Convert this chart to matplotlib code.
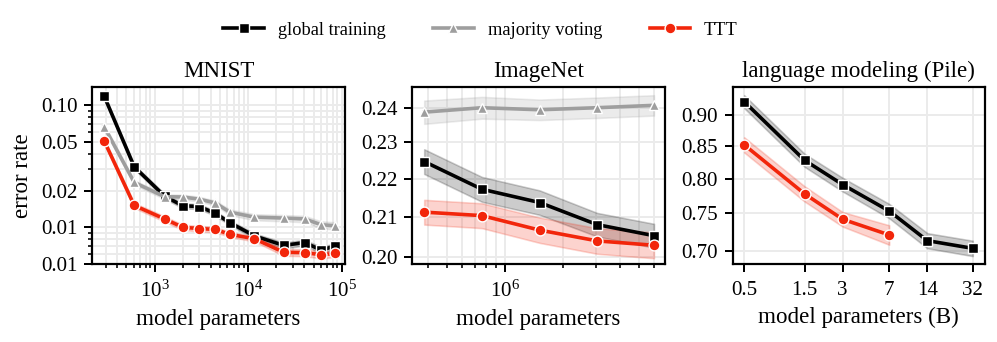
import matplotlib
matplotlib.use("Agg")
import matplotlib.pyplot as plt
import numpy as np
from matplotlib.ticker import FixedLocator, FixedFormatter, NullFormatter, NullLocator, LogLocator

# ---------------- data ----------------
series_names = ["global training", "majority voting", "TTT"]

mnist_params = [289, 606, 1280, 2000, 2990, 4470, 6370, 11700, 24000, 40300, 60300, 84100]
mnist_global = [0.119, 0.0313, 0.0180, 0.0150, 0.0148, 0.0130, 0.0109, 0.0085, 0.0071, 0.0075, 0.0065, 0.0070]
mnist_majority = [0.0668, 0.0233, 0.0178, 0.0177, 0.0170, 0.0158, 0.0133, 0.0121, 0.0119, 0.0117, 0.0105, 0.0103]
mnist_ttt = [0.0511, 0.0151, 0.0117, 0.0100, 0.00976, 0.0096, 0.00875, 0.00805, 0.00624, 0.0062, 0.00596, 0.0061]
mnist_global_err = [0.004, 0.0012, 0.0008, 0.0007, 0.0007, 0.0006, 0.0005, 0.0004, 0.0004, 0.0004, 0.0004, 0.0004]
mnist_majority_err = [0.003, 0.0010, 0.0008, 0.0008, 0.0008, 0.0007, 0.0007, 0.0007, 0.0007, 0.0007, 0.0007, 0.0007]
mnist_ttt_err = [0.002, 0.0007, 0.0006, 0.0005, 0.0005, 0.0005, 0.0004, 0.0004, 0.0004, 0.0004, 0.0004, 0.0004]
mnist_yticks = [0.1, 0.05, 0.02, 0.01, 0.005]
mnist_yticklabels = ["0.10", "0.05", "0.02", "0.01", "0.01"]

imagenet_params = [3.8e5, 7.6e5, 1.52e6, 3.03e6, 6.0e6]
imagenet_global = [0.2247, 0.2172, 0.2137, 0.2080, 0.2052]
imagenet_majority = [0.2387, 0.2400, 0.2394, 0.2400, 0.2407]
imagenet_ttt = [0.2112, 0.2103, 0.2066, 0.2039, 0.2028]
imagenet_global_err = [0.0034, 0.0033, 0.0032, 0.0030, 0.0030]
imagenet_majority_err = [0.0034, 0.0032, 0.0030, 0.0030, 0.0030]
imagenet_ttt_err = [0.0032, 0.0032, 0.0032, 0.0032, 0.0032]
imagenet_yticks = [0.20, 0.21, 0.22, 0.23, 0.24]
imagenet_yticklabels = ["0.20", "0.21", "0.22", "0.23", "0.24"]

lm_params = [0.5, 1.5, 3, 7, 14, 32]
lm_xticklabels = ["0.5", "1.5", "3", "7", "14", "32"]
lm_global = [0.9226, 0.8277, 0.7912, 0.7534, 0.7132, 0.7031]
lm_ttt_params = [0.5, 1.5, 3, 7]
lm_ttt = [0.8517, 0.7778, 0.7420, 0.7208]
lm_global_err = [0.011, 0.010, 0.010, 0.010, 0.010, 0.010]
lm_ttt_err = [0.012, 0.011, 0.010, 0.013]
lm_yticks = [0.70, 0.75, 0.80, 0.85, 0.90]
lm_yticklabels = ["0.70", "0.75", "0.80", "0.85", "0.90"]

# ---------------- style ----------------
plt.rcParams.update({
    "font.family": ["Liberation Serif", "DejaVu Serif"],
    "mathtext.fontset": "stix",
    "axes.formatter.use_mathtext": True,
    "font.size": 10,
    "xtick.labelsize": 10.5,
    "ytick.labelsize": 10.5,
    "axes.titlesize": 11.5,
    "axes.labelsize": 11.5,
    "legend.fontsize": 9.2,
    "axes.linewidth": 1.1,
    "xtick.major.size": 4,
    "ytick.major.size": 4,
    "xtick.minor.size": 2.2,
    "ytick.minor.size": 2.2,
    "xtick.major.width": 1.0,
    "ytick.major.width": 1.0,
    "xtick.minor.width": 0.8,
    "ytick.minor.width": 0.8,
    "xtick.major.pad": 4.5,
    "xtick.minor.pad": 4.5,
    "xtick.direction": "out",
    "ytick.direction": "out",
})

C_BLACK = "#000000"
C_GRAY = "#9e9e9e"
C_RED = "#f2260b"
GRID_C = "#ebebeb"

styles = {
    "global training": dict(color=C_BLACK, marker="s", ms=5.4),
    "majority voting": dict(color=C_GRAY, marker="^", ms=5.4),
    "TTT": dict(color=C_RED, marker="o", ms=5.4),
}

fig, axes = plt.subplots(1, 3, figsize=(997 / 144, 342 / 144), dpi=144)
fig.subplots_adjust(left=0.0926, right=0.988, top=0.745, bottom=0.228, wspace=0.268)


def draw(ax, x, y, err, name):
    st = styles[name]
    x = np.asarray(x, float)
    y = np.asarray(y, float)
    e = np.asarray(err, float)
    ax.fill_between(x, y - e, y + e, color=st["color"], alpha=0.2, lw=0.8, zorder=2)
    line, = ax.plot(x, y, color=st["color"], lw=1.8, marker=st["marker"], ms=st["ms"],
                    mfc=st["color"], mec="white", mew=0.7, zorder=3, label=name)
    return line


def style_axes(ax):
    ax.set_axisbelow(True)
    for s in ax.spines.values():
        s.set_color("black")
        s.set_linewidth(1.1)


# MNIST
ax = axes[0]
h1 = draw(ax, mnist_params, mnist_global, mnist_global_err, "global training")
h2 = draw(ax, mnist_params, mnist_majority, mnist_majority_err, "majority voting")
h3 = draw(ax, mnist_params, mnist_ttt, mnist_ttt_err, "TTT")
ax.set_xscale("log")
ax.set_yscale("log")
ax.set_xlim(216, 1.08e5)
ax.set_ylim(0.005, 0.1405)
ax.yaxis.set_major_locator(FixedLocator(mnist_yticks))
ax.yaxis.set_major_formatter(FixedFormatter(mnist_yticklabels))
ax.yaxis.set_minor_locator(LogLocator(base=10, subs=np.arange(2, 10)))
ax.yaxis.set_minor_formatter(NullFormatter())
ax.xaxis.set_minor_formatter(NullFormatter())
ax.grid(True, which="major", color=GRID_C, lw=1.0)
ax.grid(True, which="minor", color=GRID_C, lw=1.0)
ax.set_title("MNIST", pad=5)
ax.set_xlabel("model parameters", labelpad=3.5)
ax.set_ylabel("error rate")
style_axes(ax)

# ImageNet
ax = axes[1]
draw(ax, imagenet_params, imagenet_global, imagenet_global_err, "global training")
draw(ax, imagenet_params, imagenet_majority, imagenet_majority_err, "majority voting")
draw(ax, imagenet_params, imagenet_ttt, imagenet_ttt_err, "TTT")
ax.set_xscale("log")
ax.set_yscale("log")
ax.set_xlim(3.3e5, 6.84e6)
ax.set_ylim(0.1982, 0.2461)
ax.yaxis.set_major_locator(FixedLocator(imagenet_yticks))
ax.yaxis.set_major_formatter(FixedFormatter(imagenet_yticklabels))
ax.yaxis.set_minor_locator(NullLocator())
ax.xaxis.set_minor_formatter(NullFormatter())
ax.grid(True, which="major", color=GRID_C, lw=1.0)
ax.grid(True, which="minor", axis="x", color=GRID_C, lw=1.0)
ax.set_title("ImageNet", pad=5)
ax.set_xlabel("model parameters", labelpad=3.5)
style_axes(ax)

# Language modeling
ax = axes[2]
draw(ax, lm_params, lm_global, lm_global_err, "global training")
draw(ax, lm_ttt_params, lm_ttt, lm_ttt_err, "TTT")
ax.set_xscale("log")
ax.set_yscale("log")
ax.set_xlim(0.405, 40)
ax.set_ylim(0.683, 0.9475)
ax.xaxis.set_major_locator(FixedLocator(lm_params))
ax.xaxis.set_major_formatter(FixedFormatter(lm_xticklabels))
ax.xaxis.set_minor_locator(NullLocator())
ax.yaxis.set_major_locator(FixedLocator(lm_yticks))
ax.yaxis.set_major_formatter(FixedFormatter(lm_yticklabels))
ax.yaxis.set_minor_locator(NullLocator())
ax.grid(True, which="major", color=GRID_C, lw=1.0)
ax.set_title("language modeling (Pile)", pad=5)
ax.set_xlabel("model parameters (B)", labelpad=3.5)
style_axes(ax)

leg = fig.legend([h1, h2, h3], series_names, loc="center", bbox_to_anchor=(0.482, 0.912),
                 ncol=3, frameon=False, handlelength=2.2, handletextpad=0.75, columnspacing=2.6)

fig.savefig("out.png", dpi=144)
